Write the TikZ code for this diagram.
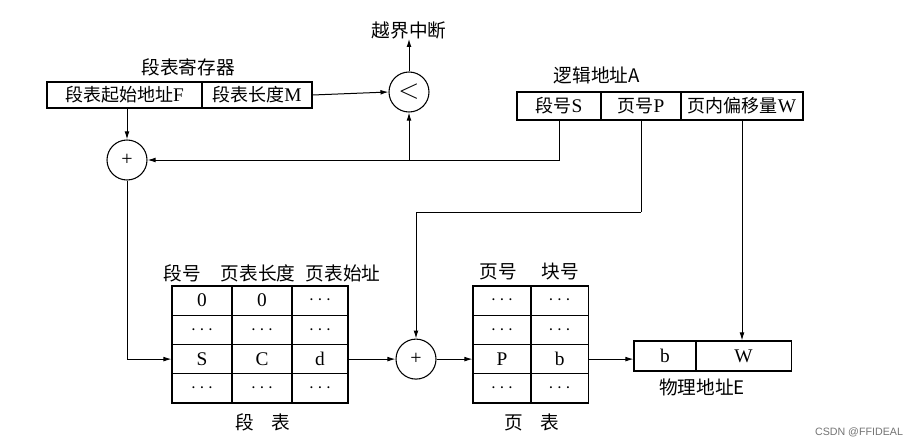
\documentclass[tikz,border=0pt]{standalone}
\usepackage{fontspec}
\setmainfont{Liberation Serif}
\newfontfamily\cjk{Noto Sans CJK SC}
\newfontfamily\wmfont{Liberation Sans}
\usetikzlibrary{arrows.meta}
\begin{document}
\begin{tikzpicture}[x=0.75pt,y=-0.75pt,
  arr/.style={line width=0.75pt,-{Latex[length=6pt,width=3.6pt]}},
  ln/.style={line width=0.75pt},
  cell/.style={draw,line width=0.8pt,inner sep=0,font=\fontsize{14.5}{14.5}\selectfont},
  lbl/.style={inner sep=0,font=\cjk\fontsize{14}{14}\selectfont},
  circ/.style={circle,draw,line width=0.8pt,minimum size=30pt,inner sep=0},
  outer/.style={draw,line width=1.2pt}]
\useasboundingbox (0,0) rectangle (917,446);

% segment register
\node[cell,minimum width=116.25pt,minimum height=19.5pt] (regF) at (124.5,95) {{\cjk\fontsize{13.5}{13.5}\selectfont 段表起始地址}F};
\node[cell,minimum width=82.5pt,minimum height=19.5pt] (regM) at (257,95) {{\cjk\fontsize{13.5}{13.5}\selectfont 段表长度}M};
\draw[outer] (regF.north west) rectangle (regM.south east);
\node[lbl] (regL) at (188,67) {段表寄存器};

% compare
\node[circ] (cmp) at (409,92) {\fontsize{20}{20}\selectfont$<$};
\node[lbl] (intr) at (409,30) {越界中断};
\draw[arr] (regM.east) -- (cmp.west);
\draw[arr] (cmp.north) -- (intr.south);

% logical address
\node[cell,minimum width=63pt,minimum height=21pt] (laS) at (559,106) {{\cjk\fontsize{13.5}{13.5}\selectfont 段号}S};
\node[cell,minimum width=60pt,minimum height=21pt] (laP) at (641,106) {{\cjk\fontsize{13.5}{13.5}\selectfont 页号}P};
\node[cell,minimum width=91.5pt,minimum height=21pt] (laW) at (742,106) {{\cjk\fontsize{13.5}{13.5}\selectfont 页内偏移量}W};
\draw[outer] (laS.north west) rectangle (laW.south east);
\node[lbl] (laL) at (597,75) {逻辑地址A};

% adder 1
\node[circ] (plus1) at (127,160) {\fontsize{15}{15}\selectfont +};
\draw[arr] (plus1 |- regF.south) -- (plus1.north);
\draw[arr] (laS.south) |- (plus1.east);
\coordinate (jn) at (cmp |- plus1);
\draw[arr] (jn) -- (cmp.south);

% segment table
\foreach \r/\y/\a/\b/\c in {1/300.6/0/0/$\cdots$, 2/329.9/$\cdots$/$\cdots$/$\cdots$, 3/359.1/S/C/d, 4/388.4/$\cdots$/$\cdots$/$\cdots$}{
  \node[cell,minimum width=45pt,minimum height=21.94pt] (s\r a) at (202,\y) {\a};
  \node[cell,minimum width=45pt,minimum height=21.94pt] (s\r b) at (262,\y) {\b};
  \node[cell,minimum width=42pt,minimum height=21.94pt] (s\r c) at (320,\y) {\c};
}
\draw[outer] (s1a.north west) rectangle (s4c.south east);
\node[lbl] (sh1) at (182,273) {段号};
\node[lbl] (sh2) at (258,273) {页表长度};
\node[lbl] (sh3) at (343,273) {页表始址};
\node[lbl] (sL) at (263,422) {段\hspace{13pt}表};

% adder 2
\node[circ] (plus2) at (416,359.1) {\fontsize{15}{15}\selectfont +};
\draw[arr] (plus1.south) |- (s3a.west);
\draw[arr] (s3c.east) -- (plus2.west);
\coordinate (pbend) at (laP.south |- 0,212);
\draw[ln] (laP.south) -- (pbend);
\draw[arr] (pbend) -| (plus2.north);

% page table
\foreach \r/\y/\a/\b in {1/300.6/$\cdots$/$\cdots$, 2/329.9/$\cdots$/$\cdots$, 3/359.1/P/b, 4/388.4/$\cdots$/$\cdots$}{
  \node[cell,minimum width=43.5pt,minimum height=21.94pt] (p\r a) at (502,\y) {\a};
  \node[cell,minimum width=42.75pt,minimum height=21.94pt] (p\r b) at (559.6,\y) {\b};
}
\draw[outer] (p1a.north west) rectangle (p4b.south east);
\node[lbl] (ph1) at (498,272) {页号};
\node[lbl] (ph2) at (560,272) {块号};
\node[lbl] (pL) at (532,422) {页\hspace{13pt}表};
\draw[arr] (plus2.east) -- (p3a.west);

% physical address
\node[cell,minimum width=46.5pt,minimum height=22.5pt] (eb) at (665,356) {b};
\node[cell,minimum width=71.25pt,minimum height=22.5pt] (eW) at (743.6,356) {W};
\draw[outer] (eb.north west) rectangle (eW.south east);
\node[lbl] (eL) at (702,387) {物理地址E};
\draw[arr] (p3b.east) -- (p3b.east -| eb.west);
\draw[arr] (laW.south) -- (laW.south |- eW.north);

% watermark
\node[inner sep=0,font=\wmfont\fontsize{8}{8}\selectfont,text=black!55] (wm) at (859,432) {CSDN @FFIDEAL};
\end{tikzpicture}
\end{document}
